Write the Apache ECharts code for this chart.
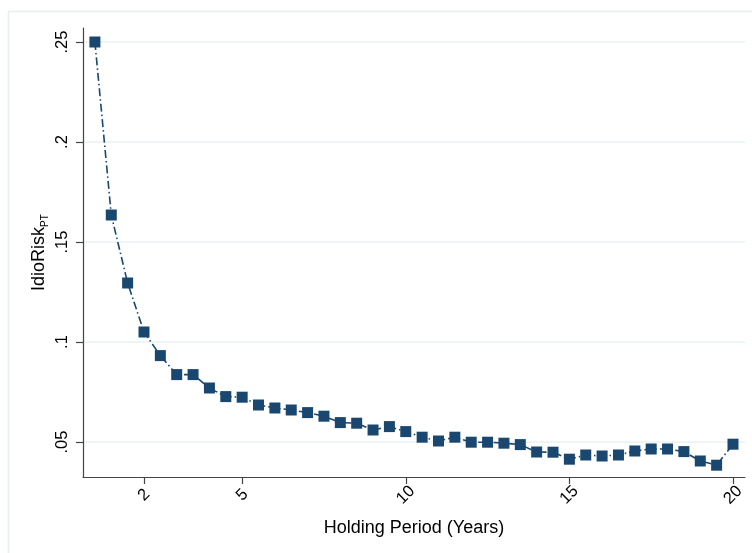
<!DOCTYPE html>
<html>
<head>
<meta charset="utf-8">
<script src="https://cdn.jsdelivr.net/npm/echarts@6/dist/echarts.min.js"></script>
<style>
html,body{margin:0;padding:0;background:#fff;}
#c{width:752px;height:553px;}
</style>
</head>
<body>
<div id="c"></div>
<script>
var holding = [0.5,1,1.5,2,2.5,3,3.5,4,4.5,5,5.5,6,6.5,7,7.5,8,8.5,9,9.5,10,10.5,11,11.5,12,12.5,13,13.5,14,14.5,15,15.5,16,16.5,17,17.5,18,18.5,19,19.5,20];
var idioRisk = [0.250,0.1635,0.1295,0.105,0.0932,0.0837,0.0837,0.077,0.0727,0.0724,0.0685,0.067,0.066,0.0647,0.0629,0.0597,0.0594,0.056,0.0577,0.0552,0.0524,0.0505,0.0524,0.0499,0.0499,0.0494,0.0487,0.045,0.0449,0.0414,0.0435,0.043,0.0435,0.0455,0.0465,0.0465,0.0452,0.0405,0.0384,0.0489];
var xTicks = [2,5,10,15,20];
var yTicks = [0.05,0.1,0.15,0.2,0.25];
var yTickLabels = ['.05','.1','.15','.2','.25'];

var data = holding.map(function(h,i){return [h, idioRisk[i]];});
var font = 'Liberation Sans, Arial, sans-serif';
var chart = echarts.init(document.getElementById('c'), null, {renderer:'canvas'});
chart.setOption({
  animation:false,
  backgroundColor:'#fff',
  graphic:[{type:'rect', shape:{x:8.5,y:11.5,width:800,height:600}, style:{fill:'none', stroke:'#e6eef0', lineWidth:1.5}, silent:true, z:-1}],
  grid:{left:83, top:28, right:7, bottom:76, containLabel:false},
  xAxis:{
    type:'value', min:0.136, max:20.367,
    name:'Holding Period (Years)', nameLocation:'middle', nameGap:42,
    nameTextStyle:{fontFamily:font, fontSize:18, color:'#000'},
    axisLine:{show:true, onZero:false, lineStyle:{color:'#444', width:1.2}},
    axisTick:{show:true, length:7, lineStyle:{color:'#444', width:1.2}, customValues:xTicks},
    axisLabel:{rotate:45, margin:18, align:'center', verticalAlign:'middle', fontFamily:font, fontSize:16.5, color:'#000', customValues:xTicks},
    splitLine:{show:false}
  },
  yAxis:{
    type:'value', min:0.0325, max:0.257,
    name:'{a|IdioRisk}{b|PT}', nameLocation:'middle', nameGap:35, nameMoveOverlap:false,
    nameTextStyle:{fontFamily:font, fontSize:18, color:'#000',
      rich:{a:{fontFamily:font, fontSize:18, color:'#000', verticalAlign:'bottom', lineHeight:20},
            b:{fontFamily:font, fontSize:10, color:'#000', verticalAlign:'bottom', lineHeight:20, padding:[0,0,-2,0]}}},
    axisLine:{show:true, onZero:false, lineStyle:{color:'#444', width:1.2}},
    axisTick:{show:true, length:7, lineStyle:{color:'#444', width:1.2}, customValues:yTicks},
    axisLabel:{rotate:90, margin:12, fontFamily:font, fontSize:16.5, color:'#000', customValues:yTicks,
      formatter:function(v){var i=yTicks.findIndex(function(t){return Math.abs(t-v)<1e-6;}); return i>=0?yTickLabels[i]:'';}},
    splitLine:{show:true, lineStyle:{color:'#eaf2f3', width:1.5}}
  },
  series:[{
    type:'line', data:data,
    symbol:'rect', symbolSize:11,
    itemStyle:{color:'#1a476f'},
    lineStyle:{color:'#1a476f', width:1.6, type:[8,3,1.5,3]}
  }]
});
</script>
</body>
</html>
